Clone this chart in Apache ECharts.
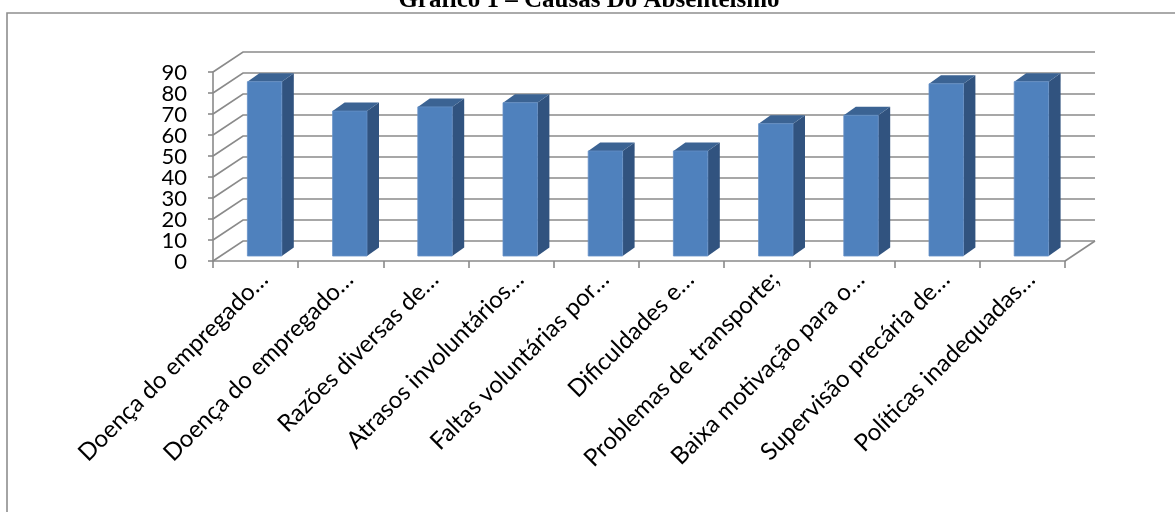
<!DOCTYPE html>
<html>
<head>
<meta charset="utf-8">
<script src="https://cdn.jsdelivr.net/npm/echarts@6/dist/echarts.min.js"></script>
<style>
  html, body { margin: 0; padding: 0; background: #ffffff; }
  #chart { width: 1175px; height: 512px; }
</style>
</head>
<body>
<div id="chart"></div>
<script>
// Causes of absenteeism (category labels as shown on the axis)
var categories = [
  'Doença do empregado…',
  'Doença do empregado…',
  'Razões diversas de…',
  'Atrasos involuntários…',
  'Faltas voluntárias por…',
  'Dificuldades e…',
  'Problemas de transporte;',
  'Baixa motivação para o…',
  'Supervisão precária de…',
  'Políticas inadequadas…'
];
var values = [83, 69, 71, 73, 50, 50, 63, 67, 82, 83];
var yTicks = [0, 10, 20, 30, 40, 50, 60, 70, 80, 90];
var titleText = 'Gráfico 1 – Causas Do Absenteísmo';

// pseudo-3D geometry (pixels)
var WALL_DX = 30, WALL_DY = -20;   // depth of the floor / side wall
var BAR_OX = 9, BAR_OY = -5;       // bar front plane offset from the axis plane
var BAR_DX = 12, BAR_DY = -8.5;    // bar depth
var BAR_W = 34.4;
var Y_LABEL_GAP = 26;

var gridColor = '#8a8a8a';
var labelFont = 'Lato';

var chart = echarts.init(document.getElementById('chart'), null, { renderer: 'canvas' });

// back wall grid lines plus the side-wall diagonals
function renderWall(params, api) {
  var cs = params.coordSys;
  var v = api.value(1);
  var y = api.coord([0, v])[1];
  var x0 = cs.x, x1 = cs.x + cs.width;
  var children = [{
    type: 'polyline',
    shape: { points: [[x0, y], [x0 + WALL_DX, y + WALL_DY], [x1 + WALL_DX, y + WALL_DY]] },
    style: { stroke: gridColor, lineWidth: 1.6, fill: null }
  }];
  if (v === 0) {
    children.push({
      type: 'line',
      shape: { x1: x1, y1: y, x2: x1 + WALL_DX, y2: y + WALL_DY },
      style: { stroke: gridColor, lineWidth: 1.6 }
    });
  }
  // tick value, tightly stacked like the axis labels
  children.push({
    type: 'text',
    x: x0 - Y_LABEL_GAP,
    y: y + 1,
    style: {
      text: String(v),
      font: '22px ' + labelFont,
      fill: '#000000',
      align: 'right',
      verticalAlign: 'middle'
    }
  });
  return { type: 'group', children: children };
}

function renderBar(params, api) {
  var i = api.value(0);
  var base = api.coord([i, 0]);
  var top = api.coord([i, api.value(1)]);
  var left = base[0] + BAR_OX - BAR_W / 2;
  var right = left + BAR_W;
  var yTop = top[1] + BAR_OY;
  var yBot = base[1] + BAR_OY;
  return {
    type: 'group',
    children: [
      {
        type: 'polygon',
        shape: { points: [[right, yTop], [right + BAR_DX, yTop + BAR_DY], [right + BAR_DX, yBot + BAR_DY], [right, yBot]] },
        style: { fill: '#31537f' }
      },
      {
        type: 'polygon',
        shape: { points: [[left, yTop], [left + BAR_DX, yTop + BAR_DY], [right + BAR_DX, yTop + BAR_DY], [right, yTop]] },
        style: { fill: '#3b6393' }
      },
      {
        type: 'rect',
        shape: { x: left, y: yTop, width: BAR_W, height: yBot - yTop },
        style: { fill: '#4f81bd', stroke: '#6690c6', lineWidth: 0.8 }
      }
    ]
  };
}

var option = {
  backgroundColor: '#ffffff',
  animation: false,
  graphic: [
    {
      type: 'rect',
      shape: { x: 7, y: 13, width: 1300, height: 700 },
      style: { fill: null, stroke: '#8e8e8e', lineWidth: 1.6 },
      silent: true
    },
    {
      type: 'text',
      x: 589, y: 13,
      style: {
        text: titleText,
        font: 'bold 25px "Liberation Serif"',
        fill: '#000000',
        align: 'center',
        verticalAlign: 'bottom'
      },
      silent: true
    }
  ],
  grid: { left: 213, right: 110, top: 72, bottom: 251, containLabel: false },
  xAxis: {
    type: 'category',
    data: categories,
    axisLine: { show: true, lineStyle: { color: gridColor, width: 1.6 } },
    axisTick: { show: true, length: 7, lineStyle: { color: gridColor, width: 1.6 } },
    axisLabel: {
      interval: 0,
      rotate: 45,
      align: 'right',
      verticalAlign: 'top',
      margin: 6,
      fontFamily: labelFont,
      fontSize: 24,
      color: '#000000',
      hideOverlap: false
    },
    splitLine: { show: false }
  },
  yAxis: {
    type: 'value',
    min: 0,
    max: 90,
    interval: 10,
    axisLine: { show: true, lineStyle: { color: gridColor, width: 1.6 } },
    axisTick: { show: true, length: 5, lineStyle: { color: gridColor, width: 1.6 } },
    axisLabel: { show: false },
    splitLine: { show: false }
  },
  series: [
    {
      type: 'custom',
      name: 'wall',
      silent: true,
      clip: false,
      z: 1,
      renderItem: renderWall,
      encode: { x: 0, y: 1 },
      data: yTicks.map(function (v) { return [0, v]; })
    },
    {
      type: 'custom',
      name: 'Causas',
      clip: false,
      z: 3,
      renderItem: renderBar,
      encode: { x: 0, y: 1 },
      data: values.map(function (v, i) { return [i, v]; })
    }
  ]
};

chart.setOption(option);
</script>
</body>
</html>
